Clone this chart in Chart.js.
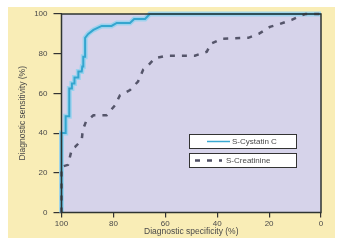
<!DOCTYPE html>
<html>
<head>
<meta charset="utf-8">
<script src="https://cdn.jsdelivr.net/npm/chart.js@4/dist/chart.umd.min.js"></script>
<style>
  html, body { margin: 0; padding: 0; background: #fff; }
  #wrap { width: 344px; height: 247px; }
</style>
</head>
<body>
<div id="wrap"><canvas id="roc" width="344" height="247"></canvas></div>
<script>
// valores (especificidade, sensibilidade)
const cystatinSpec = [100, 100, 98.4, 98.4, 97, 97, 96, 96, 95, 95, 93.5, 93.5, 92.2, 92, 91.6, 91.6, 90.9, 90.9, 89.7, 87.7, 84.5, 80.7, 78.7, 73.6, 72, 67.8, 66, 0];
const cystatinSens = [0, 40, 40, 48.5, 48.5, 62.5, 62.5, 65, 65, 68, 68, 71, 71, 73.5, 73.5, 78.5, 78.5, 88, 90, 92, 94, 94, 95.5, 95.5, 97.5, 97.5, 100, 100];

const creatinineSpec = [100, 100, 97.5, 96, 94.8, 92.2, 91.8, 90.6, 87.7, 82.6, 79.4, 77.5, 73.6, 70.5, 68.5, 66.7, 64, 59.5, 48.6, 44, 42.5, 38.3, 28, 24, 19.7, 15.8, 11.3, 8, 6, 0];
const creatinineSens = [0, 23, 24, 32, 33, 36.5, 41.5, 45.7, 49, 49, 54, 59, 61.7, 66, 72, 74, 77.7, 79, 79, 81, 85, 87.5, 88, 90, 93.5, 95, 97, 99, 100, 100];

const xTicks = [100, 80, 60, 40, 20, 0];
const yTicks = [0, 20, 40, 60, 80, 100];

const toPoints = (xs, ys) => xs.map((x, i) => ({ x: x, y: ys[i] }));

const fonte = { family: "'Liberation Sans', Arial, sans-serif", size: 8 };
const fonteTitulo = { family: "'Liberation Sans', Arial, sans-serif", size: 8.5 };
const corTexto = "#4a4a4a";
const tracejado = [5, 7];

// fundo amarelo, area lilas e moldura
const painel = {
  id: "painel",
  beforeDraw(chart) {
    const c = chart.ctx;
    const a = chart.chartArea;
    c.save();
    c.fillStyle = "#f9edb6";
    c.fillRect(8, 7, 327, 231);
    c.fillStyle = "#d6d3ea";
    c.fillRect(a.left, a.top, a.right - a.left, a.bottom - a.top);
    c.restore();
  },
  afterDatasetsDraw(chart) {
    const c = chart.ctx;
    const a = chart.chartArea;
    c.save();
    c.strokeStyle = "#2e3432";
    c.lineWidth = 1.5;
    c.strokeRect(a.left, a.top, a.right - a.left, a.bottom - a.top);
    c.restore();
  },
};

// legenda em duas caixas separadas
const legendaCaixas = {
  id: "legendaCaixas",
  afterDraw(chart) {
    const c = chart.ctx;
    const itens = [
      { label: chart.data.datasets[1].label, y: 134, dash: [], cor: "#3aa9d2", lw: 1.5, x0: 207, x1: 230, tx: 232 },
      { label: chart.data.datasets[2].label, y: 153, dash: tracejado, cor: "#4f4f64", lw: 2.5, x0: 195, x1: 222, tx: 226 },
    ];
    c.save();
    itens.forEach((it) => {
      c.fillStyle = "#ffffff";
      c.fillRect(189, it.y, 107, 14);
      c.strokeStyle = "#333333";
      c.lineWidth = 1;
      c.setLineDash([]);
      c.strokeRect(189.5, it.y + 0.5, 107, 14);
      c.strokeStyle = it.cor;
      c.lineWidth = it.lw;
      c.setLineDash(it.dash);
      c.beginPath();
      c.moveTo(it.x0, it.y + 7.5);
      c.lineTo(it.x1, it.y + 7.5);
      c.stroke();
      c.setLineDash([]);
      c.fillStyle = corTexto;
      c.font = "8px 'Liberation Sans', Arial, sans-serif";
      c.textBaseline = "middle";
      c.fillText(it.label, it.tx, it.y + 7.5);
    });
    c.restore();
  },
};

const ctx = document.getElementById("roc").getContext("2d");
const myChart = new Chart(ctx, {
  type: "scatter",
  data: {
    datasets: [
      {
        label: "glow",
        data: toPoints(cystatinSpec, cystatinSens),
        showLine: true,
        borderColor: "rgba(150, 210, 238, 0.9)",
        borderWidth: 5,
        pointRadius: 0,
        order: 3,
      },
      {
        label: "S-Cystatin C",
        data: toPoints(cystatinSpec, cystatinSens),
        showLine: true,
        borderColor: "#34a6cf",
        borderWidth: 2,
        pointRadius: 0,
        order: 2,
      },
      {
        label: "S-Creatinine",
        data: toPoints(creatinineSpec, creatinineSens),
        showLine: true,
        borderColor: "#55556a",
        borderWidth: 2.5,
        borderDash: tracejado,
        pointRadius: 0,
        order: 1,
      },
    ],
  },
  options: {
    responsive: false,
    animation: false,
    clip: false,
    layout: { padding: { top: 14, right: 23, left: 0, bottom: 0 } },
    plugins: { legend: { display: false }, tooltip: { enabled: false } },
    scales: {
      x: {
        type: "linear",
        reverse: true,
        min: 0,
        max: 100,
        afterBuildTicks: (s) => { s.ticks = xTicks.map((v) => ({ value: v })); },
        afterFit: (s) => { s.height = 34.5; },
        grid: { drawOnChartArea: false, tickLength: 5, color: "#333", lineWidth: 1.2 },
        border: { display: false },
        ticks: { font: fonte, color: corTexto, padding: 1, maxRotation: 0 },
        title: { display: true, text: "Diagnostic specificity (%)", font: fonteTitulo, color: corTexto, padding: { top: 0, bottom: 10 } },
      },
      y: {
        type: "linear",
        min: 0,
        max: 100,
        afterBuildTicks: (s) => { s.ticks = yTicks.map((v) => ({ value: v })); },
        afterFit: (s) => { s.width = 61.5; },
        grid: { drawOnChartArea: false, tickLength: 8, color: "#333", lineWidth: 1.2 },
        border: { display: false },
        ticks: { font: fonte, color: corTexto, padding: 6 },
        title: { display: true, text: "Diagnostic sensitivity (%)", font: fonteTitulo, color: corTexto, padding: { top: 18, bottom: 0 } },
      },
    },
  },
  plugins: [painel, legendaCaixas],
});
</script>
</body>
</html>
